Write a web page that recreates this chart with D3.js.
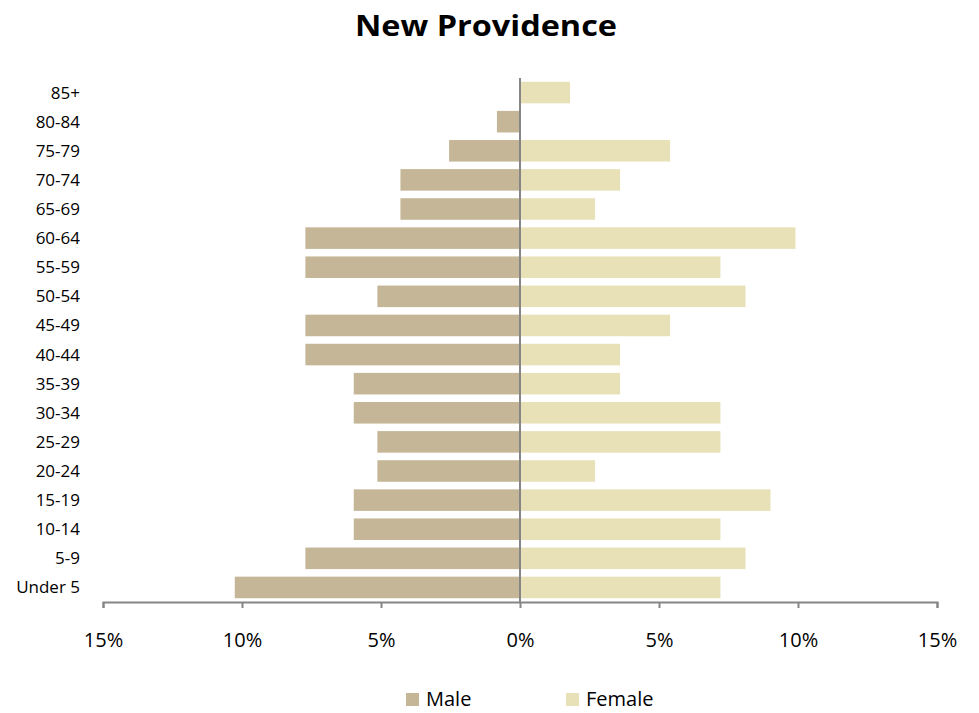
<!DOCTYPE html>
<html>
<head>
<meta charset="utf-8">
<script src="https://cdn.jsdelivr.net/npm/d3@7"></script>
<style>
  body { margin: 0; background: #fff; }
  text { font-family: "Open Sans", Lato, sans-serif; fill: #000; }
</style>
</head>
<body>
<div id="chart"></div>
<script>
// Age groups, top to bottom
const ageGroups = ['85+', '80-84', '75-79', '70-74', '65-69', '60-64', '55-59', '50-54', '45-49',
    '40-44', '35-39', '30-34', '25-29', '20-24', '15-19', '10-14', '5-9', 'Under 5'];

// Percent of population
const maleValues = [0, 0.83, 2.55, 4.3, 4.3, 7.72, 7.72, 5.13, 7.72,
    7.72, 5.98, 5.98, 5.13, 5.13, 5.98, 5.98, 7.72, 10.26];
const femaleValues = [1.8, 0, 5.4, 3.6, 2.7, 9.91, 7.21, 8.11, 5.4,
    3.6, 3.6, 7.21, 7.21, 2.7, 9.01, 7.21, 8.11, 7.21];

const tickValues = [-15, -10, -5, 0, 5, 10, 15];
const seriesNames = ['Male', 'Female'];
const seriesColors = ['#c4b696', '#e8e1b8'];

const width = 979, height = 713;

const svg = d3.select('#chart')
    .append('svg')
    .attr('width', width)
    .attr('height', height);

const x = d3.scaleLinear().domain([-15, 15]).range([103, 937]);
const y = d3.scaleBand().domain(ageGroups).range([78, 602]).paddingInner(0.26).paddingOuter(0.13);

// Title
svg.append('text')
    .attr('x', 486)
    .attr('y', 36)
    .attr('text-anchor', 'middle')
    .attr('font-size', '28px')
    .attr('font-weight', 'bold')
    .attr('textLength', 262)
    .attr('lengthAdjust', 'spacingAndGlyphs')
    .text('New Providence');

// Male bars (left)
svg.append('g')
    .selectAll('rect')
    .data(ageGroups)
    .join('rect')
    .attr('x', (d, i) => x(-maleValues[i]))
    .attr('y', d => y(d))
    .attr('width', (d, i) => x(0) - x(-maleValues[i]))
    .attr('height', y.bandwidth())
    .attr('fill', seriesColors[0]);

// Female bars (right)
svg.append('g')
    .selectAll('rect')
    .data(ageGroups)
    .join('rect')
    .attr('x', x(0))
    .attr('y', d => y(d))
    .attr('width', (d, i) => x(femaleValues[i]) - x(0))
    .attr('height', y.bandwidth())
    .attr('fill', seriesColors[1]);

// Bottom axis
const xAxis = svg.append('g')
    .attr('transform', 'translate(0,602)')
    .call(d3.axisBottom(x).tickValues(tickValues).tickSize(6).tickPadding(25)
        .tickFormat(d => Math.abs(d) + '%'));
xAxis.select('.domain').attr('stroke', '#868686').attr('stroke-width', 2);
xAxis.selectAll('.tick line').attr('stroke', '#868686').attr('stroke-width', 2);
xAxis.selectAll('.tick text').attr('font-size', '20px').attr('font-family', '"Open Sans", sans-serif').attr('fill', '#000');

// Center (category) axis line
svg.append('line')
    .attr('x1', x(0)).attr('x2', x(0))
    .attr('y1', 78).attr('y2', 602)
    .attr('stroke', '#868686')
    .attr('stroke-width', 2);

// Category labels
svg.append('g')
    .selectAll('text')
    .data(ageGroups)
    .join('text')
    .attr('x', 80)
    .attr('y', d => y(d) + y.bandwidth() / 2)
    .attr('dy', '0.35em')
    .attr('text-anchor', 'end')
    .attr('font-size', '17px')
    .text(d => d);

// Legend
const legendX = [406, 566];
const legend = svg.append('g');
seriesNames.forEach((name, i) => {
    legend.append('rect')
        .attr('x', legendX[i])
        .attr('y', 693)
        .attr('width', 13)
        .attr('height', 13)
        .attr('fill', seriesColors[i]);
    legend.append('text')
        .attr('x', legendX[i] + 20)
        .attr('y', 706)
        .attr('font-size', '20px')
        .text(name);
});
</script>
</body>
</html>
